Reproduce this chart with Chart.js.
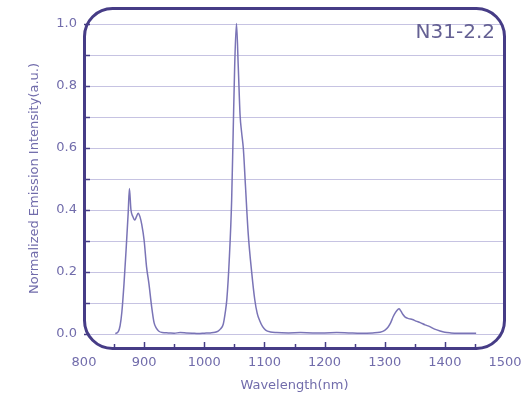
<!DOCTYPE html>
<html>
<head>
<meta charset="utf-8">
<script src="https://cdn.jsdelivr.net/npm/chart.js@4.4.1/dist/chart.umd.min.js"></script>
<style>
  html, body { margin: 0; padding: 0; background: #fff; }
  #wrap { width: 521px; height: 401px; }
</style>
</head>
<body>
<div id="wrap"><canvas id="spectrum" width="521" height="401"></canvas></div>
<script>
  // ===== data =====
  const wavelengths = [
    852, 857, 860, 863, 866.5, 870, 873.5, 875.5, 878, 881, 884.5, 887, 890, 893, 896, 900,
    904, 908, 912.5, 916.5, 920, 924, 930, 940, 950, 960, 970, 980, 990, 1000, 1010, 1018,
    1023, 1027, 1031.5, 1035, 1037.5, 1041.5, 1045.5, 1048, 1050.5, 1053.5, 1056.5, 1059.5,
    1062, 1065, 1068.5, 1073, 1079, 1084, 1088, 1092, 1097, 1102, 1110, 1120, 1140, 1160,
    1180, 1200, 1220, 1240, 1260, 1280, 1292, 1300, 1306, 1310, 1314, 1318, 1321, 1324,
    1327, 1330, 1334, 1340, 1346, 1352, 1359, 1367, 1375, 1383, 1392, 1400, 1410, 1420,
    1435, 1452
  ];
  const intensity = [
    0.0, 0.006, 0.025, 0.07, 0.16, 0.27, 0.39, 0.468, 0.40, 0.378, 0.366, 0.376, 0.388, 0.377, 0.352, 0.30,
    0.215, 0.16, 0.086, 0.035, 0.018, 0.008, 0.003, 0.002, 0.001, 0.003, 0.002, 0.001, 0.0, 0.001, 0.002, 0.004,
    0.008, 0.015, 0.03, 0.07, 0.11, 0.237, 0.43, 0.646, 0.86, 1.0, 0.86, 0.705,
    0.65, 0.595, 0.475, 0.323, 0.194, 0.108, 0.065, 0.042, 0.022, 0.011, 0.005, 0.003, 0.002, 0.003,
    0.002, 0.002, 0.003, 0.002, 0.001, 0.002, 0.004, 0.01, 0.022, 0.035, 0.054, 0.068, 0.076, 0.08,
    0.072, 0.062, 0.053, 0.048, 0.045, 0.04, 0.035, 0.028, 0.022, 0.014, 0.008, 0.004, 0.002, 0.001,
    0.001, 0.001
  ];
  const xTickLabels = [800, 900, 1000, 1100, 1200, 1300, 1400, 1500];
  const xMinorTicks = [850, 950, 1050, 1150, 1250, 1350, 1450];
  const xMajorTicks = [900, 1000, 1100, 1200, 1300, 1400];
  const yTickLabels = [0, 0.2, 0.4, 0.6, 0.8, 1.0];
  const yGridValues = [0, 0.1, 0.2, 0.3, 0.4, 0.5, 0.6, 0.7, 0.8, 0.9, 1.0];
  const sampleName = 'N31-2.2';

  const FRAME = '#463c86';
  const GRID = '#c6c3e2';
  const LINE = '#7a74b6';
  const TEXT = '#716cab';
  const FONT = "'DejaVu Sans', sans-serif";

  function framePath(ctx, a, r) {
    const l = a.left + 0.5, t = a.top + 0.5, rt = a.right - 0.5, b = a.bottom - 0.5;
    ctx.beginPath();
    ctx.moveTo(l + r, t);
    ctx.lineTo(rt - r, t);
    ctx.arcTo(rt, t, rt, t + r, r);
    ctx.lineTo(rt, b - r);
    ctx.arcTo(rt, b, rt - r, b, r);
    ctx.lineTo(l + r, b);
    ctx.arcTo(l, b, l, b - r, r);
    ctx.lineTo(l, t + r);
    ctx.arcTo(l, t, l + r, t, r);
    ctx.closePath();
  }

  // rounded frame, grid lines and inner ticks
  const framePlugin = {
    id: 'frame',
    beforeDatasetsDraw(chart) {
      const { ctx, chartArea: a, scales: { y } } = chart;
      ctx.save();
      framePath(ctx, a, 28);
      ctx.clip();
      ctx.strokeStyle = GRID;
      ctx.lineWidth = 1;
      yGridValues.forEach(v => {
        const py = Math.round(y.getPixelForValue(v)) + 0.5;
        ctx.beginPath();
        ctx.moveTo(a.left, py);
        ctx.lineTo(a.right, py);
        ctx.stroke();
      });
      ctx.restore();
    },
    afterDatasetsDraw(chart) {
      const { ctx, chartArea: a, scales: { x, y } } = chart;
      ctx.save();
      ctx.strokeStyle = FRAME;
      ctx.lineWidth = 3;
      framePath(ctx, a, 28);
      ctx.stroke();

      ctx.lineWidth = 1.5;
      // y ticks pointing inward from the left edge
      yGridValues.forEach(v => {
        const py = Math.round(y.getPixelForValue(v)) + 0.5;
        ctx.beginPath();
        ctx.moveTo(a.left, py);
        ctx.lineTo(a.left + 6, py);
        ctx.stroke();
      });
      // x ticks pointing up from the bottom edge
      const tick = (v, len) => {
        const px = Math.round(x.getPixelForValue(v)) + 0.5;
        ctx.beginPath();
        ctx.moveTo(px, a.bottom);
        ctx.lineTo(px, a.bottom - len);
        ctx.stroke();
      };
      xMajorTicks.forEach(v => tick(v, 7));
      xMinorTicks.forEach(v => tick(v, 5));

      // sample name
      ctx.fillStyle = '#646093';
      ctx.font = '20px ' + FONT;
      ctx.textAlign = 'right';
      ctx.textBaseline = 'alphabetic';
      ctx.fillText(sampleName, a.right - 10, a.top + 30);
      ctx.restore();
    }
  };

  const ctx = document.getElementById('spectrum').getContext('2d');
  new Chart(ctx, {
    type: 'line',
    data: {
      datasets: [{
        data: wavelengths.map((w, i) => ({ x: w, y: intensity[i] })),
        borderColor: LINE,
        borderWidth: 1.5,
        pointRadius: 0,
        cubicInterpolationMode: 'monotone',
        fill: false
      }]
    },
    options: {
      responsive: false,
      animation: false,
      layout: { padding: { top: 8, right: 16, left: 0, bottom: 0 } },
      plugins: { legend: { display: false }, tooltip: { enabled: false } },
      scales: {
        x: {
          type: 'linear',
          min: 800,
          max: 1500,
          afterBuildTicks: s => { s.ticks = xTickLabels.map(v => ({ value: v })); },
          afterFit: s => { s.height = 52; s.paddingLeft = 0; s.paddingRight = 0; },
          grid: { display: false, drawTicks: false },
          border: { display: false },
          ticks: {
            color: TEXT,
            font: { family: FONT, size: 13 },
            padding: 6,
            maxRotation: 0,
            callback: v => String(v)
          },
          title: {
            display: true,
            text: 'Wavelength(nm)',
            color: TEXT,
            font: { family: FONT, size: 13 },
            padding: { top: 0, bottom: 8 }
          }
        },
        y: {
          min: -0.05,
          max: 1.05,
          afterBuildTicks: s => { s.ticks = yTickLabels.map(v => ({ value: v })); },
          afterFit: s => { s.width = 84; s.paddingTop = 0; s.paddingBottom = 0; },
          grid: { display: false, drawTicks: false },
          border: { display: false },
          ticks: {
            color: TEXT,
            font: { family: FONT, size: 13 },
            padding: 7,
            callback: v => v.toFixed(1)
          },
          title: {
            display: true,
            text: 'Normalized Emission Intensity(a.u.)',
            color: TEXT,
            font: { family: FONT, size: 13 },
            padding: { top: 27, bottom: 0 }
          }
        }
      }
    },
    plugins: [framePlugin]
  });
</script>
</body>
</html>
